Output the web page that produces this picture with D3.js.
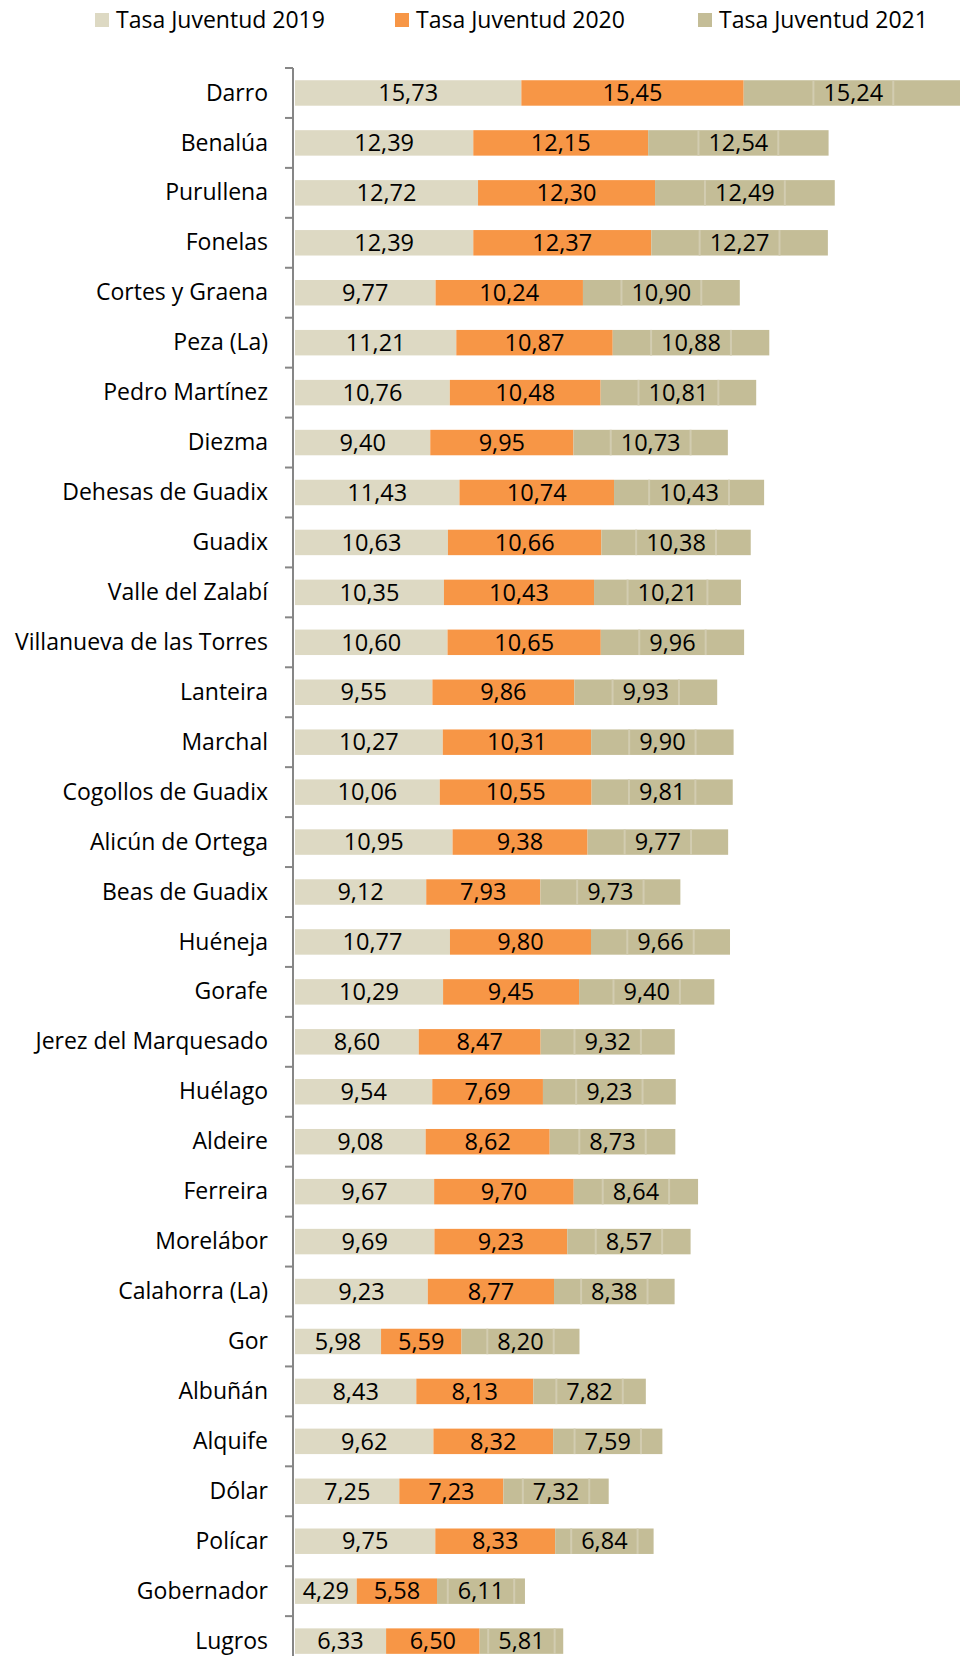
<!DOCTYPE html>
<html>
<head>
<meta charset="utf-8">
<script src="https://cdn.jsdelivr.net/npm/d3@7"></script>
<style>
  body { margin: 0; background: #fff; }
  svg { display: block; font-family: "Open Sans", sans-serif; }
</style>
</head>
<body>
<svg id="chart" width="960" height="1656"></svg>
<script>
// municipios, de arriba abajo
var municipios = ['Darro', 'Benalúa', 'Purullena', 'Fonelas', 'Cortes y Graena', 'Peza (La)',
  'Pedro Martínez', 'Diezma', 'Dehesas de Guadix', 'Guadix', 'Valle del Zalabí',
  'Villanueva de las Torres', 'Lanteira', 'Marchal', 'Cogollos de Guadix', 'Alicún de Ortega',
  'Beas de Guadix', 'Huéneja', 'Gorafe', 'Jerez del Marquesado', 'Huélago', 'Aldeire',
  'Ferreira', 'Morelábor', 'Calahorra (La)', 'Gor', 'Albuñán', 'Alquife', 'Dólar',
  'Polícar', 'Gobernador', 'Lugros'];

var tasa2019 = [15.73, 12.39, 12.72, 12.39, 9.77, 11.21, 10.76, 9.40, 11.43, 10.63, 10.35,
  10.60, 9.55, 10.27, 10.06, 10.95, 9.12, 10.77, 10.29, 8.60, 9.54, 9.08, 9.67, 9.69,
  9.23, 5.98, 8.43, 9.62, 7.25, 9.75, 4.29, 6.33];
var tasa2020 = [15.45, 12.15, 12.30, 12.37, 10.24, 10.87, 10.48, 9.95, 10.74, 10.66, 10.43,
  10.65, 9.86, 10.31, 10.55, 9.38, 7.93, 9.80, 9.45, 8.47, 7.69, 8.62, 9.70, 9.23,
  8.77, 5.59, 8.13, 8.32, 7.23, 8.33, 5.58, 6.50];
var tasa2021 = [15.24, 12.54, 12.49, 12.27, 10.90, 10.88, 10.81, 10.73, 10.43, 10.38, 10.21,
  9.96, 9.93, 9.90, 9.81, 9.77, 9.73, 9.66, 9.40, 9.32, 9.23, 8.73, 8.64, 8.57,
  8.38, 8.20, 7.82, 7.59, 7.32, 6.84, 6.11, 5.81];

var series = ['Tasa Juventud 2019', 'Tasa Juventud 2020', 'Tasa Juventud 2021'];
var colores = ['#DDD9C3', '#F79646', '#C4BD97'];

var svg = d3.select('#chart');
var fmt = function(v) { return v.toFixed(2).replace('.', ','); };

var filas = municipios.map(function(m, i) {
  return { municipio: m, 'Tasa Juventud 2019': tasa2019[i],
    'Tasa Juventud 2020': tasa2020[i], 'Tasa Juventud 2021': tasa2021[i] };
});

var stack = d3.stack().keys(series)(filas);

var x = d3.scaleLinear().domain([0, 46.5]).range([295, 295 + 46.5 * 14.39]);
var y = d3.scaleBand().domain(municipios).range([68, 68 + 32 * 49.94])
  .paddingInner(0.49).paddingOuter(0.245);

var centro = function(d) { return (x(d[0]) + x(d[1])) / 2; };

// barras apiladas
var capas = svg.append('g').selectAll('g.serie').data(stack).enter().append('g')
  .attr('class', 'serie')
  .attr('fill', function(d, i) { return colores[i]; });

capas.selectAll('rect').data(function(d) { return d; }).enter().append('rect')
  .attr('x', function(d) { return x(d[0]); })
  .attr('y', function(d) { return y(d.data.municipio); })
  .attr('width', function(d) { return x(d[1]) - x(d[0]); })
  .attr('height', y.bandwidth());

var marcos = svg.append('g');

// etiquetas de valores
var etiquetas = capas.selectAll('text').data(function(d) { return d; }).enter().append('text')
  .attr('x', centro)
  .attr('y', function(d) { return y(d.data.municipio) + y.bandwidth() / 2; })
  .attr('dy', '0.35em')
  .attr('text-anchor', 'middle')
  .attr('fill', '#000')
  .style('font-size', '23.5px')
  .text(function(d) { return fmt(d[1] - d[0]); });

// marco tenue de las etiquetas 2021
capas.filter(function(d, i) { return i === 2; }).selectAll('text').each(function(d) {
  var w = this.getComputedTextLength() / 2 + 10;
  [-w - 1, w - 1].forEach(function(off) {
    marcos.append('rect')
      .attr('x', centro(d) + off)
      .attr('y', y(d.data.municipio))
      .attr('width', 2)
      .attr('height', y.bandwidth())
      .attr('fill', '#d2ccb0');
  });
});

// eje de categorías
var eje = svg.append('g');
eje.append('line')
  .attr('x1', 293).attr('x2', 293)
  .attr('y1', 68).attr('y2', 1656)
  .attr('stroke', '#868686').attr('stroke-width', 2);
eje.selectAll('line.tick').data(d3.range(municipios.length)).enter().append('line')
  .attr('class', 'tick')
  .attr('x1', 285).attr('x2', 293)
  .attr('y1', function(i) { return 68 + i * y.step(); })
  .attr('y2', function(i) { return 68 + i * y.step(); })
  .attr('stroke', '#868686').attr('stroke-width', 2);
eje.selectAll('text').data(municipios).enter().append('text')
  .attr('x', 268)
  .attr('y', function(d) { return y(d) + y.bandwidth() / 2; })
  .attr('dy', '0.33em')
  .attr('text-anchor', 'end')
  .style('font-size', '23px')
  .text(function(d) { return d; });

// leyenda
var leyX = [95, 395, 698];
var ley = svg.append('g').selectAll('g').data(series).enter().append('g')
  .attr('transform', function(d, i) { return 'translate(' + leyX[i] + ',0)'; });
ley.append('rect')
  .attr('x', 0).attr('y', 13).attr('width', 14).attr('height', 14)
  .attr('fill', function(d, i) { return colores[i]; });
ley.append('text')
  .attr('x', 21).attr('y', 28)
  .style('font-size', '23px')
  .text(function(d) { return d; });
</script>
</body>
</html>
